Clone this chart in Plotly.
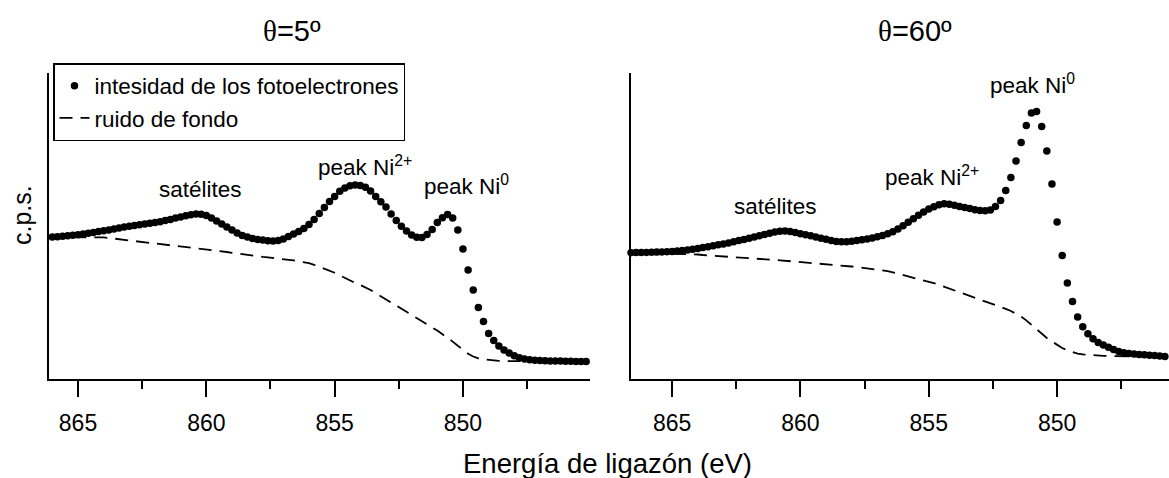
import plotly.graph_objects as go

W, H = 1169, 478

# ---------------- data ----------------
# theta = 5 deg panel
L_E = [866.0, 865.8, 865.6, 865.4, 865.2, 865.0, 864.8, 864.6, 864.4, 864.2,
       864.0, 863.8, 863.6, 863.4, 863.2, 863.0, 862.8, 862.6, 862.4, 862.2,
       862.0, 861.8, 861.6, 861.4, 861.2, 861.0, 860.8, 860.6, 860.4, 860.2,
       860.0, 859.8, 859.6, 859.4, 859.2, 859.0, 858.8, 858.6, 858.4, 858.2,
       858.0, 857.8, 857.6, 857.4, 857.2, 857.0, 856.8, 856.6, 856.4, 856.2,
       856.0, 855.8, 855.6, 855.4, 855.2, 855.0, 854.8, 854.6, 854.4, 854.2,
       854.0, 853.8, 853.6, 853.4, 853.2, 853.0, 852.8, 852.6, 852.4, 852.2,
       852.0, 851.8, 851.6, 851.4, 851.2, 851.0, 850.8, 850.6, 850.4, 850.2,
       850.0, 849.8, 849.6, 849.4, 849.2, 849.0, 848.8, 848.6, 848.4, 848.2,
       848.0, 847.8, 847.6, 847.4, 847.2, 847.0, 846.8, 846.6, 846.4, 846.2,
       846.0, 845.8, 845.6, 845.4, 845.2]
L_counts = [142.0, 142.3, 142.7, 143.2, 143.7, 144.3, 145.0, 145.8, 146.6, 147.4,
            148.2, 149.0, 149.9, 151.0, 151.9, 152.7, 153.5, 154.3, 155.0, 155.8,
            156.5, 157.3, 158.4, 159.6, 160.9, 162.1, 163.2, 164.2, 164.9, 164.8,
            163.5, 161.0, 158.0, 155.0, 152.0, 149.0, 146.0, 143.6, 142.0, 140.6,
            139.6, 138.9, 138.3, 138.0, 138.5, 140.0, 142.5, 145.0, 147.5, 150.5,
            154.5, 159.5, 165.5, 171.5, 177.5, 182.5, 187.8, 191.0, 193.3, 194.0,
            193.6, 191.8, 188.0, 182.5, 177.3, 172.0, 165.0, 158.5, 152.8, 148.0,
            144.0, 141.8, 141.5, 144.5, 149.5, 156.5, 161.3, 164.5, 161.0, 149.0,
            130.0, 109.0, 89.0, 71.5, 57.5, 45.5, 38.5, 33.0, 29.0, 26.0,
            23.3, 21.3, 20.0, 19.3, 18.8, 18.5, 18.3, 18.1, 18.0, 17.9,
            17.8, 17.7, 17.6, 17.6, 17.5]
L_bg = [142.0, 142.0, 142.0, 142.0, 142.0, 142.0, 142.0, 142.0, 142.0, 141.9,
        141.6, 141.0, 140.4, 139.8, 139.2, 138.6, 138.0, 137.4, 136.8, 136.3,
        135.7, 135.2, 134.6, 134.1, 133.5, 133.0, 132.4, 131.9, 131.2, 130.5,
        129.8, 129.1, 128.4, 127.7, 127.0, 126.2, 125.4, 124.6, 123.8, 123.1,
        122.6, 122.1, 121.6, 121.1, 120.6, 120.1, 119.5, 118.6, 117.7, 116.9,
        115.9, 114.2, 112.4, 110.6, 108.6, 106.3, 103.7, 101.1, 98.2, 96.1,
        94.0, 91.8, 89.0, 85.9, 82.8, 79.7, 76.6, 73.5, 70.4, 67.3,
        64.3, 61.2, 58.1, 55.0, 51.9, 48.4, 44.8, 41.3, 37.4, 33.2,
        29.1, 25.3, 22.5, 20.6, 19.6, 18.9, 18.4, 18.1, 18.0, 17.9,
        17.8, 17.8, 17.7, 17.7, 17.6, 17.6, 17.5, 17.5, 17.4, 17.4,
        17.3, 17.3, 17.2, 17.2, 17.1]

# theta = 60 deg panel
R_E = [866.6, 866.4, 866.2, 866.0, 865.8, 865.6, 865.4, 865.2, 865.0, 864.8,
       864.6, 864.4, 864.2, 864.0, 863.8, 863.6, 863.4, 863.2, 863.0, 862.8,
       862.6, 862.4, 862.2, 862.0, 861.8, 861.6, 861.4, 861.2, 861.0, 860.8,
       860.6, 860.4, 860.2, 860.0, 859.8, 859.6, 859.4, 859.2, 859.0, 858.8,
       858.6, 858.4, 858.2, 858.0, 857.8, 857.6, 857.4, 857.2, 857.0, 856.8,
       856.6, 856.4, 856.2, 856.0, 855.8, 855.6, 855.4, 855.2, 855.0, 854.8,
       854.6, 854.4, 854.2, 854.0, 853.8, 853.6, 853.4, 853.2, 853.0, 852.8,
       852.6, 852.4, 852.2, 852.0, 851.8, 851.6, 851.4, 851.2, 851.0, 850.8,
       850.6, 850.4, 850.2, 850.0, 849.8, 849.6, 849.4, 849.2, 849.0, 848.8,
       848.6, 848.4, 848.2, 848.0, 847.8, 847.6, 847.4, 847.2, 847.0, 846.8,
       846.6, 846.4, 846.2, 846.0, 845.8]
R_counts = [126.3, 126.4, 126.5, 126.6, 126.7, 126.9, 127.1, 127.3, 127.5, 127.9,
            128.4, 129.0, 129.8, 130.6, 131.4, 132.3, 133.2, 134.2, 135.1, 136.1,
            137.2, 138.4, 139.6, 140.8, 142.0, 143.2, 144.5, 145.8, 147.0, 147.8,
            148.0, 147.6, 146.5, 145.3, 144.3, 143.2, 142.0, 140.8, 139.7, 138.6,
            137.6, 137.2, 137.3, 137.8, 138.5, 139.2, 140.0, 141.0, 142.2, 143.6,
            145.3, 147.3, 150.0, 153.3, 156.8, 160.3, 163.7, 166.9, 170.0, 172.3,
            174.2, 175.2, 174.8, 173.8, 172.6, 171.5, 170.4, 169.3, 168.6, 168.3,
            169.1, 172.5, 178.5, 188.5, 201.5, 218.0, 236.5, 253.5, 266.0, 267.5,
            252.5, 228.0, 195.0, 157.0, 123.5, 96.0, 77.5, 62.0, 52.3, 45.3,
            40.3, 36.5, 34.0, 31.7, 29.6, 27.5, 26.3, 25.5, 25.0, 24.6,
            24.2, 23.8, 23.4, 23.0, 22.5]
R_bg = [126.3, 126.2, 126.1, 126.0, 125.9, 125.8, 125.7, 125.6, 125.5, 125.4,
        125.3, 125.1, 124.9, 124.5, 124.0, 123.6, 123.1, 122.7, 122.3, 121.9,
        121.5, 121.2, 120.9, 120.6, 120.3, 120.0, 119.7, 119.3, 119.0, 118.7,
        118.3, 117.8, 117.4, 116.9, 116.4, 116.1, 115.8, 115.5, 115.1, 114.8,
        114.4, 113.8, 113.1, 112.5, 111.9, 111.3, 110.6, 109.9, 109.2, 108.6,
        107.8, 106.6, 105.3, 104.0, 102.7, 101.4, 100.1, 98.5, 97.3, 95.9,
        94.1, 92.3, 90.4, 88.6, 86.8, 85.1, 83.4, 81.6, 79.9, 78.1,
        76.3, 74.3, 72.3, 70.2, 68.0, 65.6, 62.4, 58.6, 54.2, 49.2,
        44.8, 41.0, 37.5, 33.8, 31.0, 28.7, 26.8, 25.4, 24.6, 24.1,
        23.7, 23.4, 23.2, 23.0, 22.9, 22.8, 22.7, 22.6, 22.5, 22.5,
        22.4, 22.4, 22.3, 22.3, 22.2]

major_ticks = [865, 860, 855, 850]
minor_ticks = [862.5, 857.5, 852.5, 847.5]
panel_titles = ["θ=5º", "θ=60º"]
series_names = ["intesidad de los fotoelectrones", "ruido de fondo"]

# ---------------- figure ----------------
FONT = "Arial, Liberation Sans, sans-serif"
fig = go.Figure()

dash = "13px,8px"
for i, (E, I, B) in enumerate([(L_E, L_counts, L_bg), (R_E, R_counts, R_bg)]):
    xa = "x" if i == 0 else "x2"
    ya = "y" if i == 0 else "y2"
    fig.add_trace(go.Scatter(x=E, y=B, mode="lines", name=series_names[1],
                             line=dict(color="black", width=1.8, dash=dash),
                             xaxis=xa, yaxis=ya, showlegend=(i == 0),
                             legendrank=2, cliponaxis=False))
    fig.add_trace(go.Scatter(x=E, y=I, mode="markers", name=series_names[0],
                             marker=dict(color="black", size=7.5),
                             xaxis=xa, yaxis=ya, showlegend=(i == 0),
                             legendrank=1, cliponaxis=False))

def px_x(p):
    return p / W

def px_y(p):
    return 1 - p / H

ydom = [px_y(379), px_y(73)]
xcommon = dict(showline=True, linecolor="black", linewidth=2, mirror=False,
               ticks="outside", ticklen=16, tickwidth=1.5, tickcolor="black",
               tickmode="array", tickvals=major_ticks,
               minor=dict(tickmode="array", tickvals=minor_ticks, ticks="outside",
                          ticklen=8, tickwidth=1.5, tickcolor="black", showgrid=False),
               showgrid=False, zeroline=False,
               tickfont=dict(family=FONT, size=23, color="black"),
               ticklabelstandoff=6)
ycommon = dict(showline=True, linecolor="black", linewidth=2, ticks="",
               showticklabels=False, showgrid=False, zeroline=False,
               range=[0, 306], domain=ydom)

fig.update_layout(
    width=W, height=H, margin=dict(l=0, r=0, t=0, b=0),
    paper_bgcolor="white", plot_bgcolor="white",
    font=dict(family=FONT, color="black"),
    xaxis=dict(domain=[px_x(49), px_x(590)], range=[866.13, 845.05], anchor="y", **xcommon),
    xaxis2=dict(domain=[px_x(631), 1.0], range=[866.6, 845.64], anchor="y2", **xcommon),
    yaxis=dict(anchor="x", **ycommon),
    yaxis2=dict(anchor="x2", **ycommon),
    legend=dict(x=px_x(53), y=px_y(63), xanchor="left", yanchor="top",
                bgcolor="white", bordercolor="black", borderwidth=1.5,
                font=dict(family=FONT, size=22.5, color="black"),
                tracegroupgap=0, itemwidth=30),
    showlegend=True,
)

def ann(text, x, y, size=22.5, angle=0):
    fig.add_annotation(text=text, x=px_x(x), y=px_y(y), xref="paper", yref="paper",
                       showarrow=False, xanchor="center", yanchor="middle",
                       textangle=angle, font=dict(family=FONT, size=size, color="black"))

theta = '<span style="font-family:Liberation Serif, DejaVu Serif, serif">θ</span>'
ann(theta + panel_titles[0][1:], 292, 31, size=29)
ann(theta + panel_titles[1][1:], 915, 31, size=29)
ann("c.p.s.", 22, 215, size=25, angle=-90)
ann("Energía de ligazón (eV)", 607, 463, size=27.5)

ann("satélites", 200, 189)
ann("peak Ni<sup>2+</sup>", 365, 166)
ann("peak Ni<sup>0</sup>", 466, 185)
ann("satélites", 775, 206)
ann("peak Ni<sup>2+</sup>", 932, 176)
ann("peak Ni<sup>0</sup>", 1032, 84)

fig.write_html("out.html")
